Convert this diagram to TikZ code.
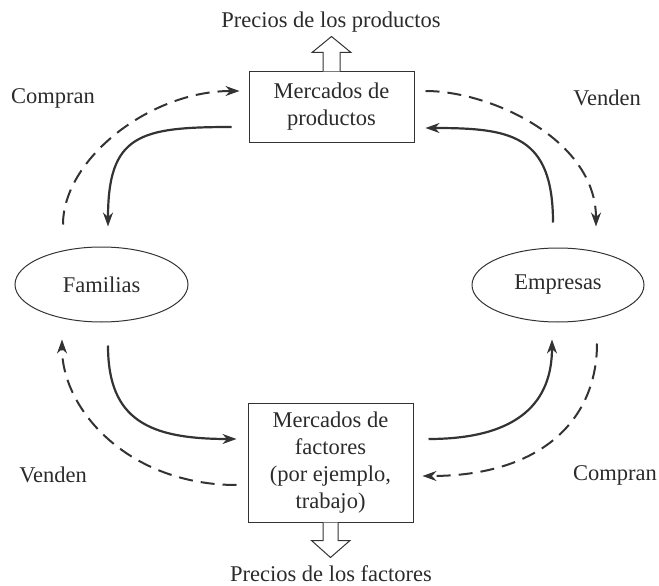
\documentclass[tikz,border=0pt]{standalone}
\usepackage{fontspec}
\setmainfont{Liberation Serif}
\usepackage{xcolor}
\usepackage{tikz}
\usetikzlibrary{arrows.meta,shapes.geometric}
\definecolor{grisOsc}{HTML}{333333}
\definecolor{grisTxt}{HTML}{2B2B2B}

\begin{document}
\begin{tikzpicture}[x=1pt,y=-1pt,
  font=\fontsize{22.5}{27}\selectfont,
  every node/.style={text=grisTxt,inner sep=1pt},
  caja/.style={draw=grisOsc,line width=1pt,rectangle,align=center,inner sep=0pt},
  elipse/.style={draw=grisOsc,line width=1pt,ellipse,inner sep=0pt},
  flujo/.style={grisOsc,line width=2.2pt,-{Stealth[length=14pt,width=10pt]}},
  flujoDisc/.style={flujo,line width=2pt,dash pattern=on 14pt off 8pt},
  hueco/.style={draw=grisOsc,fill=white,line width=1pt,line join=miter}]
\useasboundingbox (0,0) rectangle (659,586);
\node[caja,minimum width=165,minimum height=70] (pm) at (331.5,107) {Mercados de\\productos};
\node[caja,minimum width=165,minimum height=119] (fm) at (330.5,462.5) {Mercados de\\factores\\(por ejemplo,\\trabajo)};
\node[elipse,minimum width=173,minimum height=75] (fam) at (101.5,284.5) {Familias};
\node[elipse,minimum width=172,minimum height=74] (emp) at (558,285) {Empresas};
% flechas huecas de precios
\draw[hueco] ([shift={(-8.5,0)}]pm.north) -- ++(0,-19) -- ++(-11,0) -- ([shift={(0,-35)}]pm.north)
  -- ([shift={(19.5,-19)}]pm.north) -- ++(-11,0) -- ([shift={(8.5,0)}]pm.north);
\draw[hueco] ([shift={(-7.5,0)}]fm.south) -- ++(0,18) -- ++(-11.5,0) -- ([shift={(0,35)}]fm.south)
  -- ([shift={(19.5,18)}]fm.south) -- ++(-12,0) -- ([shift={(7.5,0)}]fm.south);
\node (precP) at (331,22) {Precios de los productos};
\node (precF) at (331,574) {Precios de los factores};
% flujos de arriba
\draw[flujoDisc] ([shift={(-38.5,-22)}]fam.north) .. controls +(0,-65) and +(-90,0) .. ([shift={(-9,-16)}]pm.west);
\draw[flujo] ([shift={(-17,20)}]pm.west) .. controls +(-92,0) and +(0,-92) .. ([shift={(6.5,-20)}]fam.north);
\draw[flujoDisc] ([shift={(11,-16)}]pm.east) .. controls +(65,0) and +(0,-87) .. ([shift={(38,-21)}]emp.north);
\draw[flujo] ([shift={(-5,-25)}]emp.north) .. controls +(0,-88) and +(85,0) .. ([shift={(11,21)}]pm.east);
% flujos de abajo
\draw[flujo] ([shift={(6.5,23)}]fam.south) .. controls +(0,75) and +(-87,0) .. ([shift={(-11,-23.5)}]fm.west);
\draw[flujoDisc] ([shift={(-11,22.5)}]fm.west) .. controls +(-107,0) and +(0,71) .. ([shift={(-39.5,17)}]fam.south);
\draw[flujo] ([shift={(15,-23.5)}]fm.east) .. controls +(92,0) and +(0,61) .. ([shift={(-6,17)}]emp.south);
\draw[flujoDisc] ([shift={(39,21)}]emp.south) .. controls +(0,77) and +(118,0) .. ([shift={(9,13.5)}]fm.east);
% rotulos
\node (compA) at (53,98) {Compran};
\node (vendA) at (607,98) {Venden};
\node (vendB) at (53,475) {Venden};
\node (compB) at (615,475) {Compran};
\end{tikzpicture}
\end{document}
